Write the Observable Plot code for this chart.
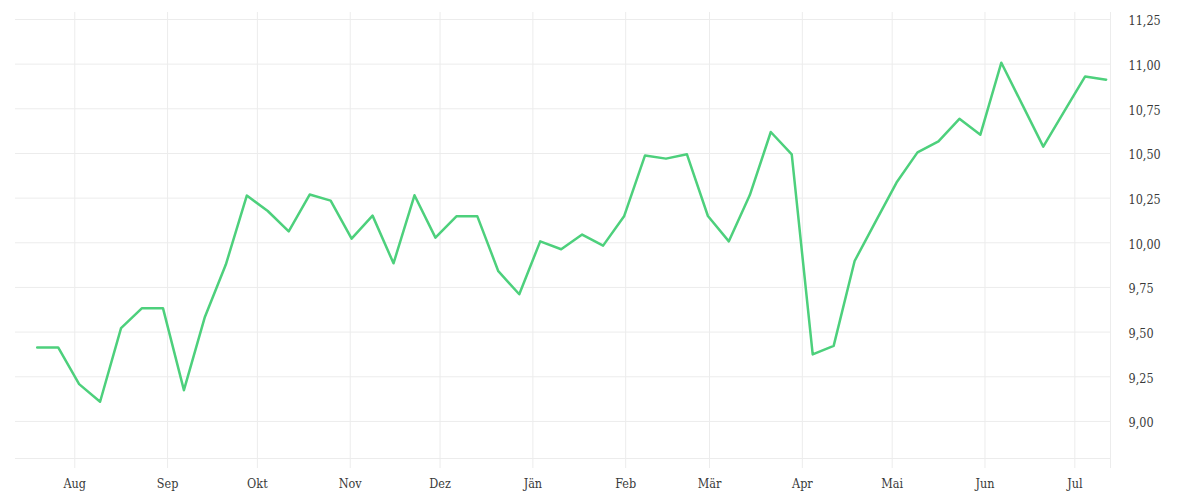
<!DOCTYPE html>
<html>
<head>
<meta charset="utf-8">
<script src="https://cdn.jsdelivr.net/npm/d3@7"></script>
<script src="https://cdn.jsdelivr.net/npm/@observablehq/plot@0.6"></script>
<style>
  html, body { margin: 0; padding: 0; background: #fff; }
  #chart { width: 1200px; height: 500px; }
</style>
</head>
<body>
<div id="chart"></div>
<script>
// Weekly observation dates
const dates = [
  "2022-07-19","2022-07-26","2022-08-02","2022-08-09","2022-08-16","2022-08-23","2022-08-30",
  "2022-09-06","2022-09-13","2022-09-20","2022-09-27","2022-10-04","2022-10-11","2022-10-18",
  "2022-10-25","2022-11-01","2022-11-08","2022-11-15","2022-11-22","2022-11-29","2022-12-06",
  "2022-12-13","2022-12-20","2022-12-27","2023-01-03","2023-01-10","2023-01-17","2023-01-24",
  "2023-01-31","2023-02-07","2023-02-14","2023-02-21","2023-02-28","2023-03-07","2023-03-14",
  "2023-03-21","2023-03-28","2023-04-04","2023-04-11","2023-04-18","2023-04-25","2023-05-02",
  "2023-05-09","2023-05-16","2023-05-23","2023-05-30","2023-06-06","2023-06-13","2023-06-20",
  "2023-06-27","2023-07-04","2023-07-11"
];
// Series values
const values = [
  9.414, 9.414, 9.209, 9.110, 9.522, 9.634, 9.634,
  9.175, 9.585, 9.878, 10.264, 10.178, 10.064, 10.270,
  10.236, 10.023, 10.152, 9.885, 10.266, 10.029, 10.148,
  10.148, 9.841, 9.712, 10.008, 9.964, 10.046, 9.984,
  10.148, 10.489, 10.471, 10.495, 10.150, 10.008, 10.267,
  10.620, 10.495, 9.375, 9.423, 9.898, 10.118, 10.337,
  10.506, 10.568, 10.694, 10.605, 11.008, 10.773, 10.538,
  10.735, 10.931, 10.913
];
// Axis ticks and labels
const monthLabels = ["Jän","Feb","Mär","Apr","Mai","Jun","Jul","Aug","Sep","Okt","Nov","Dez"];
const monthTicks = [
  "2022-08-01","2022-09-01","2022-10-01","2022-11-01","2022-12-01","2023-01-01",
  "2023-02-01","2023-03-01","2023-04-01","2023-05-01","2023-06-01","2023-07-01"
];
const yTicks = [9.00, 9.25, 9.50, 9.75, 10.00, 10.25, 10.50, 10.75, 11.00, 11.25];
const xDomain = ["2022-07-12T05:00Z", "2023-07-12T22:00Z"];
const yDomain = [8.7925, 11.289];

const data = dates.map((d, i) => ({date: new Date(d + "T11:00Z"), value: values[i]}));
const tickDates = monthTicks.map(d => new Date(d + "T00:00Z"));
const xDom = xDomain.map(d => new Date(d));

const gridColor = "#ececec";
const fmt = d => d.toFixed(2).replace(".", ",");

const chart = Plot.plot({
  width: 1200,
  height: 500,
  marginLeft: 15,
  marginRight: 90,
  marginTop: 12,
  marginBottom: 42,
  style: {
    fontFamily: "'DejaVu Serif Condensed', 'DejaVu Serif', serif",
    fontStretch: "condensed",
    fontSize: "12.5px",
    color: "#3a3a3a",
    background: "#fff"
  },
  x: {type: "utc", domain: xDom},
  y: {domain: yDomain},
  marks: [
    Plot.ruleY(yTicks, {stroke: gridColor, strokeWidth: 1}),
    Plot.ruleY([yDomain[0]], {stroke: gridColor, strokeWidth: 1}),
    Plot.ruleX(tickDates, {stroke: gridColor, strokeWidth: 1, insetBottom: -10}),
    Plot.ruleX([xDom[1]], {stroke: gridColor, strokeWidth: 1, insetBottom: -10}),
    Plot.lineY(data, {x: "date", y: "value", stroke: "#4dd07c", strokeWidth: 2.5}),
    Plot.axisX({
      ticks: tickDates,
      tickFormat: d => monthLabels[d.getUTCMonth()],
      tickSize: 0,
      tickPadding: 21,
      label: null
    }),
    Plot.axisY({
      anchor: "right",
      ticks: yTicks,
      tickFormat: fmt,
      tickSize: 0,
      tickPadding: 18,
      dy: 2,
      label: null
    })
  ]
});
document.getElementById("chart").appendChild(chart);
</script>
</body>
</html>
